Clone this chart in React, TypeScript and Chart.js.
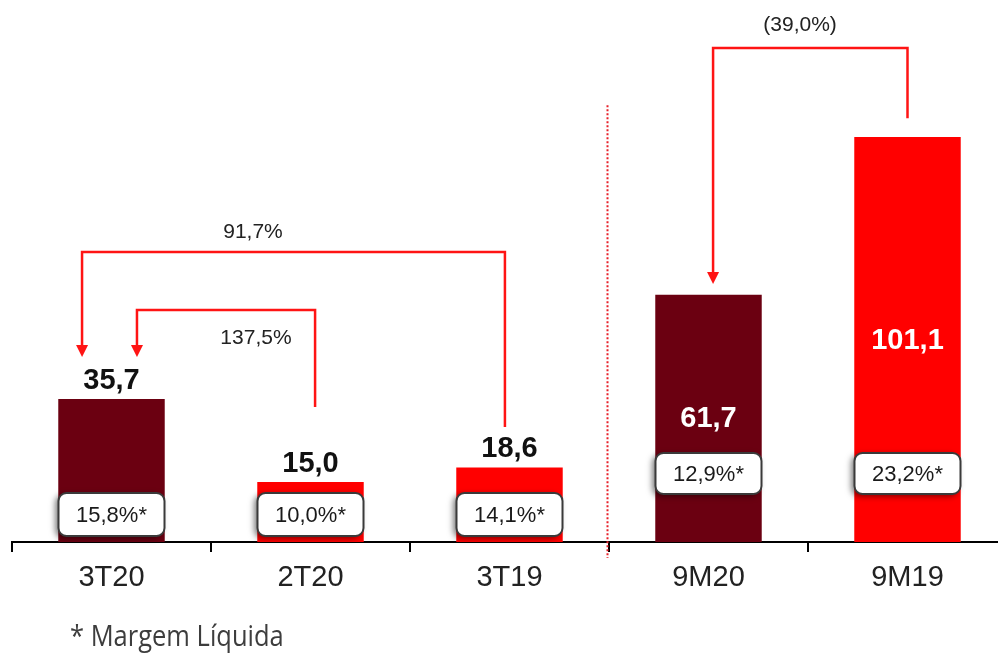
import React, { useEffect, useRef } from "react";
import { Chart, registerables } from "chart.js";

Chart.register(...registerables);

// ---- data ----
const categories = ["3T20", "2T20", "3T19", "9M20", "9M19"];
const values = [35.7, 15.0, 18.6, 61.7, 101.1];
const valueLabels = ["35,7", "15,0", "18,6", "61,7", "101,1"];
const margins = ["15,8%*", "10,0%*", "14,1%*", "12,9%*", "23,2%*"];
const barColors = ["#6b0011", "#ff0000", "#ff0000", "#6b0011", "#ff0000"];
const labelInside = [false, false, false, true, true];

// comparison arrows (category indices, levels in data units)
const arrowFrom = [2, 1, 4];
const arrowTo = [0, 0, 3];
const arrowLabels = ["91,7%", "137,5%", "(39,0%)"];
const arrowLevel = [72.4, 57.9, 123.3];
const arrowFromBottom = [28.7, 33.7, 105.8];
const arrowTip = [46.2, 46.2, 64.4];
const arrowFromOffset = [-0.023, 0.023, 0];
const arrowToOffset = [-0.148, 0.128, 0.023];
const arrowLabelX = [0.711, 0.726, 3.46];
const arrowLabelY = [77.4, 50.9, 129];

const footnote = "* Margem Líquida";

const FONT = "'Liberation Sans', Arial, sans-serif";

const overlayPlugin = {
  id: "overlay",
  afterDatasetsDraw(chart: any) {
    const ctx = chart.ctx as CanvasRenderingContext2D;
    const xs = chart.scales.x;
    const ys = chart.scales.y;
    const catW = xs.getPixelForValue(1) - xs.getPixelForValue(0);
    const meta = chart.getDatasetMeta(0);

    // dotted separator between quarters and 9M
    ctx.save();
    const sepX = (xs.getPixelForValue(2) + xs.getPixelForValue(3)) / 2 - 1.5;
    ctx.strokeStyle = "#e8202a";
    ctx.lineWidth = 2;
    ctx.setLineDash([2, 2]);
    ctx.beginPath();
    ctx.moveTo(sepX, ys.getPixelForValue(109));
    ctx.lineTo(sepX, ys.bottom + 16);
    ctx.stroke();
    ctx.restore();

    // value labels
    values.forEach((v, i) => {
      const bar = meta.data[i];
      const x = bar.x;
      ctx.save();
      ctx.font = `bold 29px ${FONT}`;
      ctx.textAlign = "center";
      if (labelInside[i]) {
        ctx.fillStyle = "#ffffff";
        ctx.textBaseline = "middle";
        ctx.fillText(valueLabels[i], x, (bar.y + bar.base) / 2 + 1);
      } else {
        ctx.fillStyle = "#111111";
        ctx.textBaseline = "alphabetic";
        ctx.fillText(valueLabels[i], x, bar.y - 10);
      }
      ctx.restore();
    });

    // margin boxes
    values.forEach((v, i) => {
      const bar = meta.data[i];
      const w = 106;
      const h = labelInside[i] ? 41 : 43;
      const x = bar.x - w / 2;
      const y = labelInside[i] ? ys.bottom - 89 : ys.bottom - 49;
      ctx.save();
      ctx.shadowColor = "rgba(0,0,0,0.55)";
      ctx.shadowBlur = 6;
      ctx.shadowOffsetX = -3;
      ctx.shadowOffsetY = 2;
      ctx.fillStyle = "#ffffff";
      ctx.beginPath();
      (ctx as any).roundRect(x, y, w, h, 8);
      ctx.fill();
      ctx.shadowColor = "transparent";
      ctx.strokeStyle = "#3a3a3a";
      ctx.lineWidth = 2;
      ctx.stroke();
      ctx.fillStyle = "#1a1a1a";
      ctx.font = `22px ${FONT}`;
      ctx.textAlign = "center";
      ctx.textBaseline = "middle";
      ctx.fillText(margins[i], bar.x, y + h / 2 + 1);
      ctx.restore();
    });

    // arrows
    arrowFrom.forEach((from, k) => {
      const x1 = xs.getPixelForValue(from) + arrowFromOffset[k] * catW;
      const x2 = xs.getPixelForValue(arrowTo[k]) + arrowToOffset[k] * catW;
      const yTop = ys.getPixelForValue(arrowLevel[k]);
      const yBot = ys.getPixelForValue(arrowFromBottom[k]);
      const yTip = ys.getPixelForValue(arrowTip[k]);
      ctx.save();
      ctx.strokeStyle = "#ff1414";
      ctx.fillStyle = "#ff1414";
      ctx.lineWidth = 2.5;
      ctx.lineJoin = "miter";
      ctx.beginPath();
      ctx.moveTo(x1, yBot);
      ctx.lineTo(x1, yTop);
      ctx.lineTo(x2, yTop);
      ctx.lineTo(x2, yTip - 10);
      ctx.stroke();
      ctx.beginPath();
      ctx.moveTo(x2 - 6, yTip - 12);
      ctx.lineTo(x2 + 6, yTip - 12);
      ctx.lineTo(x2, yTip);
      ctx.closePath();
      ctx.fill();
      ctx.restore();

      ctx.save();
      ctx.fillStyle = "#222222";
      ctx.font = `21px ${FONT}`;
      ctx.textAlign = "center";
      ctx.textBaseline = "middle";
      const lx = xs.getPixelForValue(0) + arrowLabelX[k] * catW;
      ctx.fillText(arrowLabels[k], lx, ys.getPixelForValue(arrowLabelY[k]));
      ctx.restore();
    });
  },
  afterDraw(chart: any) {
    const ctx = chart.ctx as CanvasRenderingContext2D;
    ctx.save();
    ctx.fillStyle = "#3d3d3d";
    ctx.font = "25.5px 'Open Sans', sans-serif";
    ctx.textAlign = "left";
    ctx.textBaseline = "alphabetic";
    ctx.translate(70, 646);
    ctx.scale(1, 1.12);
    ctx.fillText(footnote, 0, 0);
    ctx.restore();
  },
};

export default function App() {
  const ref = useRef<HTMLCanvasElement>(null);
  useEffect(() => {
    if (!ref.current) return;
    const chart = new Chart(ref.current, {
      type: "bar",
      data: {
        labels: categories,
        datasets: [
          {
            data: values,
            backgroundColor: barColors,
            borderWidth: 0,
            categoryPercentage: 1,
            barPercentage: 0.535,
          },
        ],
      },
      options: {
        responsive: false,
        animation: false,
        layout: { padding: { left: 12, right: 3, top: 0, bottom: 0 } },
        plugins: {
          legend: { display: false },
          tooltip: { enabled: false },
        },
        scales: {
          y: {
            display: false,
            min: 0,
            max: 135.3,
          },
          x: {
            offset: true,
            afterFit: (scale: any) => {
              scale.height = 111;
            },
            border: { display: true, color: "#000", width: 2 },
            grid: {
              display: true,
              offset: true,
              drawOnChartArea: false,
              drawTicks: true,
              tickLength: 10,
              color: "#000",
              lineWidth: 2,
            },
            ticks: {
              color: "#222",
              padding: 9,
              font: { family: FONT, size: 29 },
            },
          },
        },
      },
      plugins: [overlayPlugin],
    });
    return () => chart.destroy();
  }, []);
  return (
    <div
      style={{
        position: "absolute",
        left: 0,
        top: 0,
        width: 998,
        height: 653,
        overflow: "hidden",
        background: "#fff",
      }}
    >
      <canvas ref={ref} width={1010} height={653} style={{ display: "block" }} />
    </div>
  );
}
